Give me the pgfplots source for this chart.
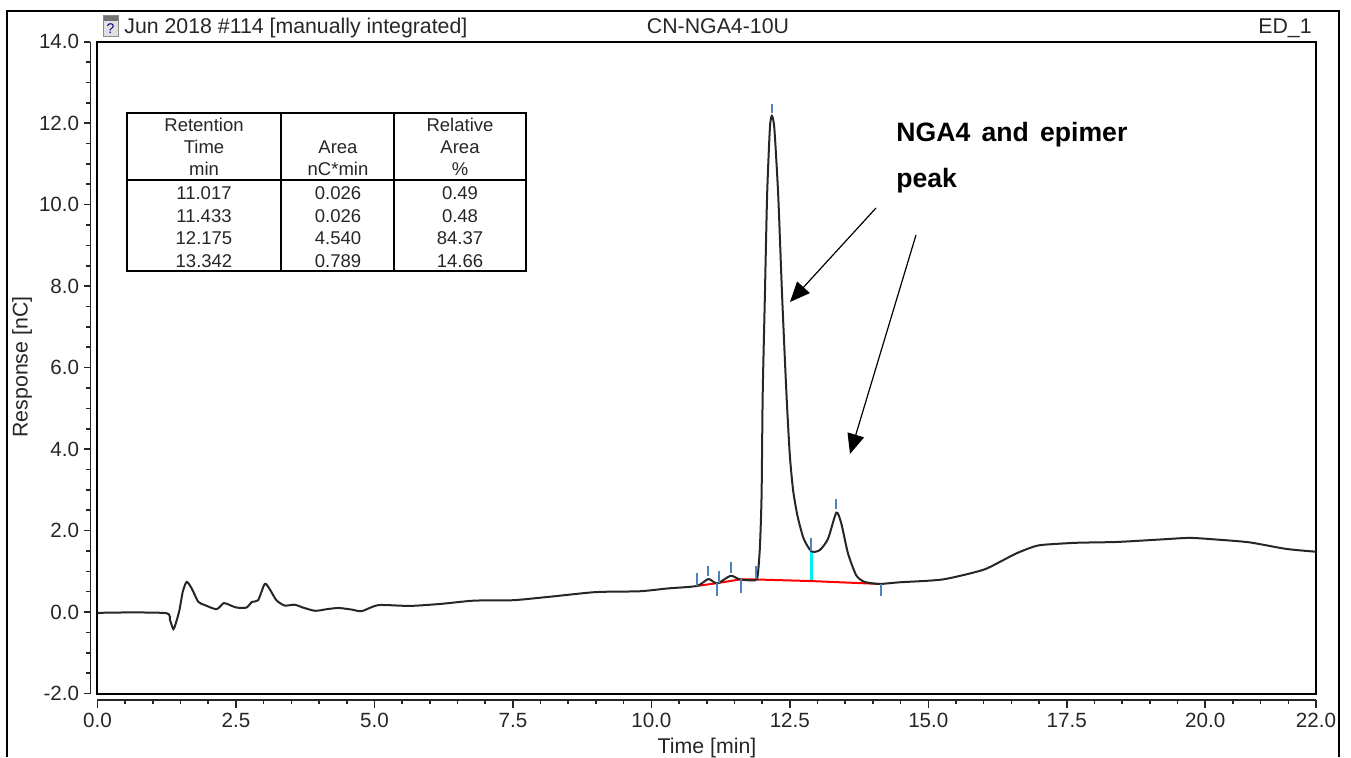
\documentclass[border=0pt]{standalone}
\usepackage{fontspec}
\setmainfont{Liberation Sans}
\usepackage{pgfplots}
\pgfplotsset{compat=1.18}
\usetikzlibrary{arrows.meta}
\definecolor{markblue}{HTML}{4F81BD}
\definecolor{curve}{HTML}{262626}
\definecolor{purecyan}{HTML}{00F0F0}

% chromatogram trace
\newcommand{\tracedata}{
(0,-0.02)(0.6,-0.01)(1.25,-0.03)(1.31,-0.2)(1.37,-0.42)(1.42,-0.25)(1.48,0.05)(1.54,0.5)(1.61,0.74)(1.70,0.58)(1.82,0.25)
(1.94,0.17)(2.15,0.07)(2.28,0.22)(2.39,0.17)(2.51,0.11)(2.69,0.11)(2.79,0.25)(2.90,0.29)(3.02,0.69)(3.11,0.56)
(3.23,0.29)(3.38,0.16)(3.56,0.18)(3.71,0.11)(3.93,0.03)(4.14,0.07)(4.35,0.10)(4.59,0.06)(4.77,0.02)(5.07,0.17)
(5.64,0.15)(6.2,0.20)(6.8,0.28)(7.5,0.29)(8.2,0.38)(9.0,0.49)(9.79,0.51)(10.3,0.58)(10.82,0.64)(11.03,0.81)
(11.19,0.70)(11.43,0.89)(11.60,0.80)(11.87,0.78)(11.92,0.90)(11.96,1.6)(11.99,2.87)(12.01,5.33)(12.05,7.78)(12.09,10.24)(12.14,11.88)
(12.175,12.18)(12.22,11.88)(12.29,10.24)(12.36,7.78)(12.44,5.33)(12.50,3.85)(12.56,2.98)(12.64,2.35)(12.75,1.80)(12.89,1.49)
(13.04,1.52)(13.19,1.80)(13.34,2.44)(13.43,2.17)(13.55,1.44)(13.7,0.90)(13.85,0.74)(14.12,0.69)(14.48,0.73)
(15.26,0.80)(15.98,1.03)(16.29,1.23)(16.59,1.44)(16.89,1.60)(17.07,1.65)(17.67,1.70)(18.4,1.72)(19.18,1.78)(19.72,1.82)(20.2,1.78)
(20.8,1.71)(21.46,1.55)(22.0,1.48)
}

\begin{document}
\begin{tikzpicture}[x=0.5pt,y=-0.5pt,every node/.style={inner sep=0pt,text=black!85},
	lbl/.style={font=\fontsize{10.65}{12}\selectfont},
	tbl/.style={font=\fontsize{9.25}{11}\selectfont}]
\useasboundingbox (0,0) rectangle (1351,757);

% outer window border
\draw[line width=1pt] (7,757)--(7,11)--(1339,11)--(1339,757);

% main frame with the data
\begin{axis}[at={(48.75pt,-346.75pt)},anchor=south west,scale only axis,
	width=609.25pt,height=325.9pt,
	xmin=0,xmax=22,ymin=-2,ymax=14,
	xtick=\empty,ytick=\empty,
	axis line style={line width=1pt},
	unbounded coords=jump]
\addplot[red,line width=1pt] coordinates {(10.82,0.64)(11.19,0.71)(11.60,0.80)(11.87,0.80)(12.89,0.76)(14.12,0.69)};
\addplot[purecyan,line width=1.2pt] coordinates {(12.89,1.49)(12.89,0.78)};
\addplot[curve,line width=1pt,smooth,tension=0.4] coordinates {\tracedata};
\addplot[markblue,line width=1pt] coordinates {
	(10.82,0.95)(10.82,0.64)(10.82,nan)
	(11.02,1.13)(11.02,0.89)(11.02,nan)
	(11.23,1.00)(11.23,0.71)(11.23,nan)
	(11.19,0.71)(11.19,0.39)(11.19,nan)
	(11.43,1.22)(11.43,0.97)(11.43,nan)
	(11.61,0.81)(11.61,0.47)(11.61,nan)
	(11.89,1.13)(11.89,0.80)(11.89,nan)
	(12.175,12.47)(12.175,12.25)(12.175,nan)
	(12.89,1.81)(12.89,1.49)(12.89,nan)
	(13.34,2.77)(13.34,2.52)(13.34,nan)
	(14.14,0.70)(14.14,0.39)};
\end{axis}

% y tick scale, set off from the frame
\begin{axis}[at={(45.25pt,-346.75pt)},anchor=south west,scale only axis,
	width=609.25pt,height=325.9pt,
	xmin=0,xmax=22,ymin=-2,ymax=14,
	axis y line=left,axis x line=none,
	axis line style={-,line width=0.8pt,black!85},
	tick style={line width=0.8pt,black!85},
	ytick={-2,0,...,14},minor y tick num=3,
	yticklabels={-2.0,0.0,2.0,4.0,6.0,8.0,10.0,12.0,14.0},
	yticklabel style={font=\fontsize{10.3}{12}\selectfont,text=black!85,xshift=-2.5pt},
	tick align=outside,major tick length=3pt,minor tick length=2pt]
\end{axis}

% x tick scale
\begin{axis}[at={(48.75pt,-350pt)},anchor=south west,scale only axis,
	width=609.25pt,height=325.9pt,
	xmin=0,xmax=22,ymin=-2,ymax=14,
	axis x line=bottom,axis y line=none,
	axis line style={-,line width=0.8pt,black!85},
	tick style={line width=0.8pt,black!85},
	xtick={0,2.5,5,7.5,10,12.5,15,17.5,20,22},
	minor xtick={0,0.5,...,22},
	xticklabels={0.0,2.5,5.0,7.5,10.0,12.5,15.0,17.5,20.0,22.0},
	xticklabel style={font=\fontsize{10.3}{12}\selectfont,text=black!85,yshift=-2.5pt},
	tick align=outside,major tick length=4pt,minor tick length=2pt]
\end{axis}

% axis titles
\node[lbl,rotate=90] at (22,367) {Response [nC]};
\node[lbl] at (707,748) {Time [min]};

% header line
\fill[black!55] (103,15) rectangle (118,21);
\fill[black!12] (103,21) rectangle (118,36);
\draw[black!45,line width=0.4pt] (103,15) rectangle (118,36);
\node[font=\fontsize{7}{8}\selectfont,text=blue!50!black] at (110.5,29) {?};
\node[lbl,anchor=base west] at (124,33) {Jun 2018 \#114 [manually integrated]};
\node[lbl,anchor=base] at (718,33) {CN-NGA4-10U};
\node[lbl,anchor=base east] at (1312,33) {ED\_1};

% results table
\draw[line width=1pt] (127,113) rectangle (526,271);
\draw[line width=1pt] (127,180)--(526,180) (281,113)--(281,271) (394,113)--(394,271);
\foreach \yy/\a/\b/\c in {131/Retention//Relative,153/Time/Area/Area,175/min/nC*min/\%,
	199/11.017/0.026/0.49,222/11.433/0.026/0.48,244/12.175/4.540/84.37,267/13.342/0.789/14.66}{
	\node[tbl,anchor=base] at (204,\yy) {\a};
	\node[tbl,anchor=base] at (338,\yy) {\b};
	\node[tbl,anchor=base] at (460,\yy) {\c};
}

% annotation
\node[anchor=base west,font=\fontsize{13.3}{15}\selectfont\bfseries,text=black] at (896,141) {\makebox[115.5pt][s]{NGA4 and epimer}};
\node[anchor=base west,font=\fontsize{13.3}{15}\selectfont\bfseries,text=black] at (896,187) {peak};
\draw[-{Triangle[length=10pt,width=8.5pt]},line width=0.6pt,black] (876,208)--(790,302);
\draw[-{Triangle[length=10pt,width=8.5pt]},line width=0.6pt,black] (916,235)--(850,454);
\end{tikzpicture}
\end{document}
